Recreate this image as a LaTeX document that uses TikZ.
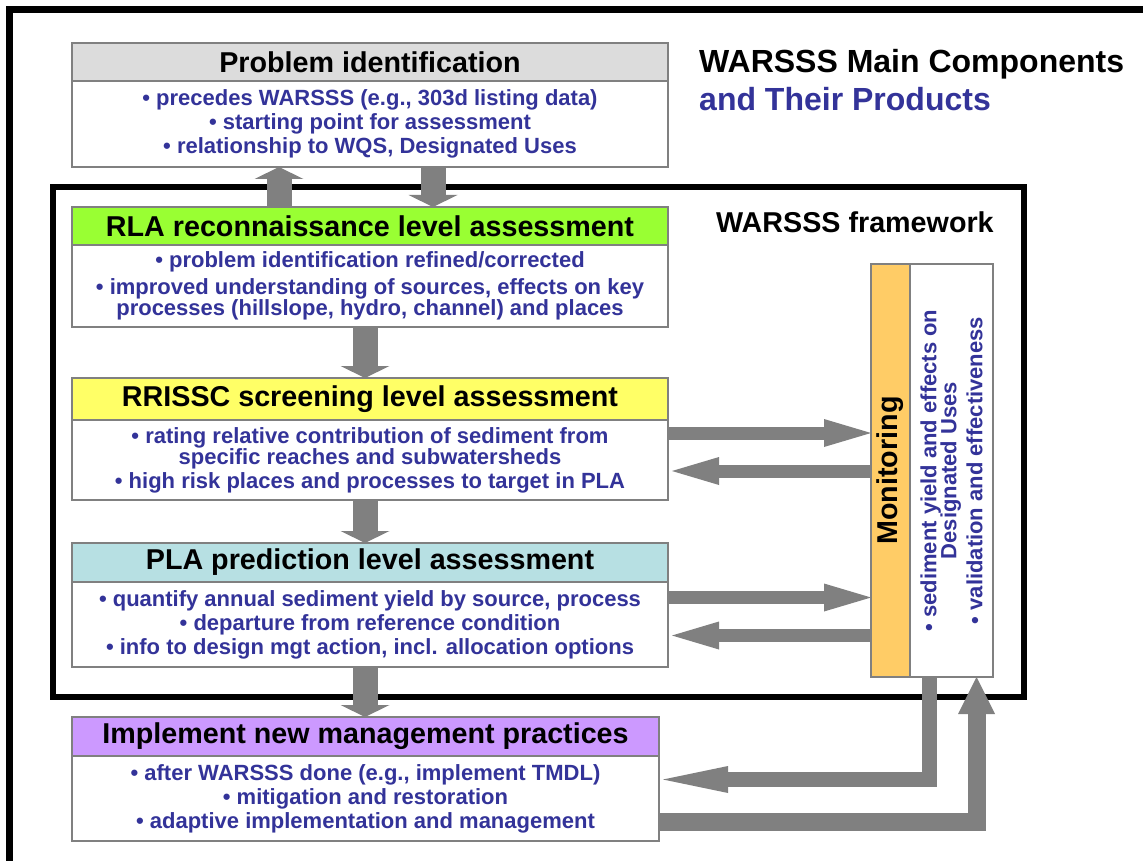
\documentclass[tikz,border=0pt]{standalone}
\usepackage{fontspec}
\setmainfont{Liberation Sans}
\usetikzlibrary{positioning,arrows.meta}
\definecolor{headgray}{RGB}{220,220,220}
\definecolor{rlagreen}{RGB}{153,255,51}
\definecolor{rryellow}{RGB}{255,255,102}
\definecolor{plablue}{RGB}{183,224,227}
\definecolor{implpurple}{RGB}{204,153,255}
\definecolor{monorange}{RGB}{255,204,102}
\definecolor{itemblue}{RGB}{51,51,153}
\definecolor{arrowgray}{RGB}{128,128,128}
\tikzset{
  head/.style={draw=arrowgray, line width=1.5pt, outer sep=0pt, inner sep=0pt,
    minimum width=596pt, minimum height=39pt, font=\fontsize{28.7}{30}\selectfont\bfseries},
  body/.style={draw=arrowgray, line width=1.5pt, outer sep=0pt, inner sep=0pt,
    minimum width=596pt, minimum height=84pt, align=center, text=itemblue,
    font=\fontsize{22}{24}\selectfont\bfseries},
  downarrow/.style={arrowgray, line width=25pt, -{Triangle[width=49pt,length=12pt,line width=0pt]}},
  sidearrow/.style={arrowgray, line width=13pt, -{Triangle[width=28pt,length=47pt,line width=0pt]}},
  backarrow/.style={arrowgray, line width=15pt, -{Triangle[width=27pt,length=65pt,line width=0pt]}},
  uparrow/.style={arrowgray, line width=18pt, -{Triangle[width=37pt,length=37pt,line width=0pt]}},
}
\begin{document}
\begin{tikzpicture}[x=1pt,y=-1pt]
  \clip (0,0) rectangle (1143,861);
  \fill[white] (0,0) rectangle (1143,861);
  \draw[line width=7pt] (9.5,9.5) rectangle (1200,900);
  \draw[line width=6pt] (53,187) rectangle (1024,697);

  \node[head, fill=headgray, anchor=north, minimum height=38pt] (probhd) at (370,43) {Problem identification};
  \node[body, below=0pt of probhd, minimum height=86pt] (probbd) {%
    • precedes WARSSS (e.g., 303d listing data)\\
    • starting point for assessment\\
    • relationship to WQS, Designated Uses};

  \node[head, fill=rlagreen, anchor=north, minimum height=38pt] (rlahd) at (370,207) {RLA reconnaissance level assessment};
  \node[body, below=0pt of rlahd, minimum height=82pt] (rlabd) {%
    • problem identification refined/corrected\\[3pt]
    • improved understanding of sources, effects on key\\[-3pt]
    processes (hillslope, hydro, channel) and places};

  \node[head, fill=rryellow, anchor=north, minimum height=42pt] (rrhd) at (370,378) {RRISSC screening level assessment};
  \node[body, below=0pt of rrhd, minimum height=80pt] (rrbd) {%
    • rating relative contribution of sediment from\\[-3pt]
    specific reaches and subwatersheds\\
    • high risk places and processes to target in PLA};

  \node[head, fill=plablue, anchor=north] (plahd) at (370,543) {PLA prediction level assessment};
  \node[body, below=0pt of plahd, minimum height=85pt] (plabd) {%
    • quantify annual sediment yield by source, process\\
    • departure from reference condition\\
    • info to design mgt action, incl. allocation options};

  \node[head, fill=implpurple, anchor=north, minimum width=587pt] (implhd) at (365.5,717) {Implement new management practices};
  \node[body, below=0pt of implhd, minimum width=587pt, minimum height=85pt] (implbd) {%
    • after WARSSS done (e.g., implement TMDL)\\
    • mitigation and restoration\\
    • adaptive implementation and management};

  \node[head, fill=monorange, rotate=90, minimum width=413pt] (monhd) at (890.5,470.5) {Monitoring};
  \node[body, rotate=90, anchor=north, minimum width=413pt, minimum height=83pt] (monbd) at (monhd.south) {%
    • sediment yield and effects on\\[-4pt]
    Designated Uses\\[2pt]
    • validation and effectiveness};

  \node[anchor=base west, inner sep=0pt, font=\fontsize{32}{34}\selectfont\bfseries] (title) at (699,73) {WARSSS Main Components};
  \node[anchor=base west, inner sep=0pt, text=itemblue, font=\fontsize{32}{34}\selectfont\bfseries] (subtitle) at (699,111) {and Their Products};
  \node[anchor=base west, inner sep=0pt, font=\fontsize{28.7}{30}\selectfont\bfseries] (framelabel) at (716,233) {WARSSS framework};

  \draw[downarrow] ([xshift=-91pt]rlahd.north) -- ([xshift=-91pt]probbd.south);
  \draw[downarrow] ([xshift=63pt]probbd.south) -- ([xshift=63pt]rlahd.north);
  \draw[downarrow] ([xshift=-5pt]rlabd.south) -- ([xshift=-5pt]rrhd.north);
  \draw[downarrow] ([xshift=-5pt]rrbd.south) -- ([xshift=-5pt]plahd.north);
  \draw[downarrow] ([xshift=-5pt]plabd.south) -- ([xshift=-5pt]plabd.south |- implhd.north);

  \draw[sidearrow] ([yshift=27pt]rrbd.east) -- ([yshift=27pt]rrbd.east -| monhd.north);
  \draw[sidearrow] ([yshift=-11pt]rrbd.east -| monhd.north) -- ([yshift=-11pt,xshift=4pt]rrbd.east);
  \draw[sidearrow] ([yshift=27pt]plabd.east) -- ([yshift=27pt]plabd.east -| monhd.north);
  \draw[sidearrow] ([yshift=-11pt]plabd.east -| monhd.north) -- ([yshift=-11pt,xshift=4pt]plabd.east);

  \draw[backarrow] ([xshift=-22pt]monbd.west) |- ([yshift=19pt,xshift=4pt]implbd.east);
  \draw[uparrow] ([yshift=-23pt]implbd.east) -| ([xshift=25pt]monbd.west);
\end{tikzpicture}
\end{document}
